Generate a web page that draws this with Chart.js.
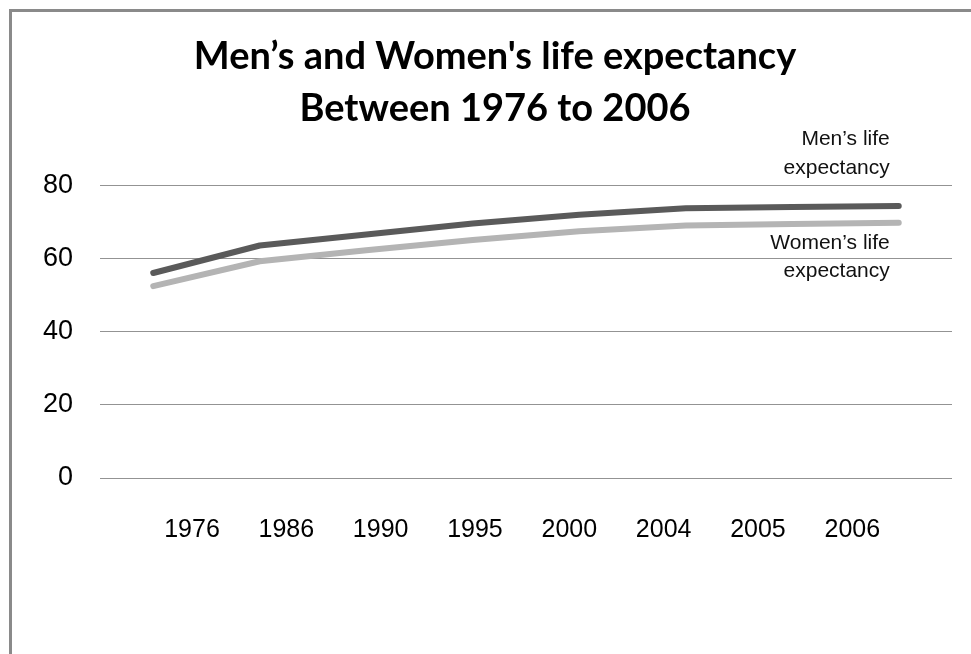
<!DOCTYPE html>
<html>
<head>
<meta charset="utf-8">
<script src="https://cdn.jsdelivr.net/npm/chart.js@4.4.1/dist/chart.umd.min.js"></script>
<style>
  html, body { margin: 0; padding: 0; background: #ffffff; }
  #wrap { width: 971px; height: 654px; position: relative; }
</style>
</head>
<body>
<div id="wrap"><canvas id="c" width="971" height="654"></canvas></div>
<script>
// ---- data ----
const years = ['1976', '1986', '1990', '1995', '2000', '2004', '2005', '2006'];
const menLife = [56.0, 63.5, 66.5, 69.5, 71.9, 73.7, 74.0, 74.3];
const womenLife = [52.4, 59.2, 62.2, 65.0, 67.4, 69.0, 69.4, 69.7];
const yTicks = [0, 20, 40, 60, 80];
const titleLines = ['Men\u2019s and Women\'s life expectancy', 'Between 1976 to 2006'];
const menLabel = ['Men\u2019s life', 'expectancy'];
const womenLabel = ['Women\u2019s life', 'expectancy'];

const MEN_COLOR = '#5a5a5a';
const WOMEN_COLOR = '#b4b4b4';

const frame = {
  id: 'frame',
  beforeDraw(chart) {
    const ctx = chart.ctx;
    ctx.save();
    ctx.fillStyle = '#ffffff';
    ctx.fillRect(0, 0, chart.width, chart.height);
    ctx.strokeStyle = '#8a8a8a';
    ctx.lineWidth = 3;
    ctx.strokeRect(10.5, 10.5, chart.width + 20, chart.height + 20);
    ctx.restore();
  }
};

const seriesLabels = {
  id: 'seriesLabels',
  afterDatasetsDraw(chart) {
    const ctx = chart.ctx;
    const last = years.length - 1;
    const pm = chart.getDatasetMeta(0).data[last];
    const pw = chart.getDatasetMeta(1).data[last];
    ctx.save();
    ctx.fillStyle = '#111111';
    ctx.font = '21px "Liberation Sans", Arial, sans-serif';
    ctx.textAlign = 'right';
    ctx.textBaseline = 'middle';
    const x = pm.x - 9;
    ctx.fillText(menLabel[0], x, pm.y - 67);
    ctx.fillText(menLabel[1], x, pm.y - 38);
    ctx.fillText(womenLabel[0], x, pw.y + 20);
    ctx.fillText(womenLabel[1], x, pw.y + 48);
    ctx.restore();
  }
};

new Chart(document.getElementById('c'), {
  type: 'line',
  data: {
    labels: years,
    datasets: [
      { label: 'Men\u2019s life expectancy', data: menLife, borderColor: MEN_COLOR, backgroundColor: MEN_COLOR,
        borderWidth: 6, pointRadius: 0, tension: 0, borderCapStyle: 'round', borderJoinStyle: 'round', xAxisID: 'x', yAxisID: 'y' },
      { label: 'Women\u2019s life expectancy', data: womenLife, borderColor: WOMEN_COLOR, backgroundColor: WOMEN_COLOR,
        borderWidth: 6, pointRadius: 0, tension: 0, borderCapStyle: 'round', borderJoinStyle: 'round', xAxisID: 'x', yAxisID: 'y' }
    ]
  },
  options: {
    responsive: false,
    animation: false,
    devicePixelRatio: 1,
    layout: { padding: { left: 38, right: 19, top: 0, bottom: 116 } },
    plugins: {
      legend: { display: false },
      tooltip: { enabled: false },
      title: {
        display: true,
        text: titleLines,
        color: '#000000',
        font: { family: 'Lato, "Open Sans", sans-serif', size: 38, weight: 'bold', lineHeight: 1.37 },
        padding: { top: 31, bottom: 50 }
      }
    },
    scales: {
      x: {
        type: 'category',
        display: false,
        offset: true,
        grid: { display: false }
      },
      xl: {
        type: 'linear',
        position: 'bottom',
        min: -0.975,
        max: 8.057,
        grid: { display: false, drawTicks: false },
        border: { display: false },
        afterBuildTicks(scale) { scale.ticks = years.map((y, i) => ({ value: i })); },
        afterFit(scale) { scale.height = 60; },
        ticks: {
          autoSkip: false,
          maxRotation: 0,
          padding: 37,
          color: '#000000',
          font: { family: '"Liberation Sans", Arial, sans-serif', size: 25 },
          callback: (v) => years[v]
        }
      },
      y: {
        type: 'linear',
        min: 0,
        max: 80,
        afterBuildTicks(scale) { scale.ticks = yTicks.map(v => ({ value: v })); },
        afterFit(scale) { scale.width = 62; },
        grid: { color: '#939393', lineWidth: 1, drawTicks: false },
        border: { display: false },
        ticks: {
          padding: 27,
          color: '#000000',
          font: { family: '"Liberation Sans", Arial, sans-serif', size: 27 }
        }
      }
    }
  },
  plugins: [frame, seriesLabels]
});
</script>
</body>
</html>
